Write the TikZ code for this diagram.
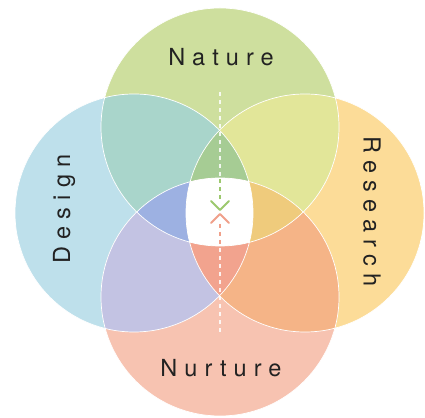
\documentclass[tikz,border=0pt]{standalone}
\usepackage{fontspec}
\usetikzlibrary{calc}

\newfontfamily\tagfont{TeX Gyre Heros}[LetterSpace=30]

\definecolor{natc}{HTML}{CEDF9E}
\definecolor{desc}{HTML}{BEE0EB}
\definecolor{resc}{HTML}{FCDC98}
\definecolor{nurc}{HTML}{F7C3B1}
\definecolor{natdes}{HTML}{A9D5CB}
\definecolor{natres}{HTML}{E2E699}
\definecolor{desnur}{HTML}{C3C3E3}
\definecolor{resnur}{HTML}{F5B487}
\definecolor{topmix}{HTML}{A6CC94}
\definecolor{leftmix}{HTML}{9DB1E2}
\definecolor{rightmix}{HTML}{EFCB7C}
\definecolor{botmix}{HTML}{F2A38E}
\definecolor{markgreen}{HTML}{9CC86E}
\definecolor{marksalmon}{HTML}{F0A08A}
\definecolor{labelgray}{HTML}{222222}

% the four circles
\def\cNat{(220,290) circle (119)}
\def\cDes{(134,204) circle (119)}
\def\cRes{(305,204) circle (119)}
\def\cNur{(220,120) circle (119)}

\begin{document}
\begin{tikzpicture}[x=1pt, y=1pt,
  tag/.style={font=\tagfont\fontsize{23.5}{23.5}\selectfont, text=labelgray, inner sep=0pt},
  rim/.style={draw=white, line width=0.7pt},
  axis/.style={dash pattern=on 4pt off 4pt, line width=1.3pt},
  chev/.style={line width=1.8pt, line cap=round, line join=round}]

\useasboundingbox (0,0) rectangle (425,417);

% ---- single circles -------------------------------------------------------------
\fill[natc] \cNat;
\fill[desc] \cDes;
\fill[resc] \cRes;
\fill[nurc] \cNur;

% ---- pairs ------------------------------------------------------------------------
\begin{scope} \clip \cNat; \fill[natdes] \cDes; \fill[natres] \cRes; \end{scope}
\begin{scope} \clip \cNur; \fill[desnur] \cDes; \fill[resnur] \cRes; \end{scope}

% ---- triples ----------------------------------------------------------------------
\begin{scope} \clip \cDes; \clip \cRes; \fill[topmix] \cNat; \fill[botmix] \cNur; \end{scope}
\begin{scope} \clip \cNat; \clip \cNur; \fill[leftmix] \cDes; \fill[rightmix] \cRes; \end{scope}

% ---- all four ---------------------------------------------------------------------
\begin{scope} \clip \cNat; \clip \cNur; \clip \cDes; \fill[white] \cRes; \end{scope}

% ---- rims -------------------------------------------------------------------------
\draw[rim] \cNat; \draw[rim] \cDes; \draw[rim] \cRes; \draw[rim] \cNur;

% ---- axis and marks ---------------------------------------------------------------
\coordinate (ax1) at (220,325);
\coordinate (ax2) at (220,238);
\coordinate (ax3) at (220,215);
\coordinate (ax4) at (220,193);
\coordinate (ax5) at (220,169);
\coordinate (ax6) at (220,84);
\draw[axis, white, opacity=0.85] (ax1) -- (ax2);
\draw[axis, markgreen] (ax2) -- (ax3);
\draw[axis, marksalmon] (ax4) -- (ax5);
\draw[axis, white, opacity=0.85] (ax5) -- (ax6);

\coordinate (vtip) at (220,207);
\coordinate (ltip) at (220,203);
\draw[chev, markgreen] ($(vtip)+(-9,9)$) -- (vtip) -- ($(vtip)+(9,9)$);
\draw[chev, marksalmon] ($(ltip)+(-9,-9)$) -- (ltip) -- ($(ltip)+(9,-9)$);

% ---- labels -----------------------------------------------------------------------
\node[tag] (nat) at (221,360) {Nature};
\node[tag] (nur) at (221,49) {Nurture};
\node[tag, rotate=90] (des) at (64,208) {Design};
\node[tag, rotate=-90] (res) at (372,205.5) {Research};

\end{tikzpicture}
\end{document}
